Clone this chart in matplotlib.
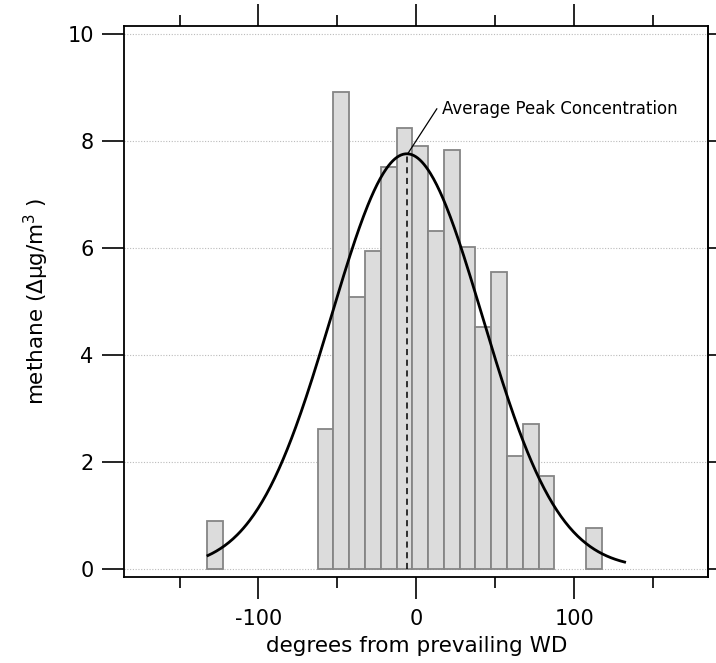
import numpy as np
import matplotlib
matplotlib.use("Agg")
import matplotlib.pyplot as plt
from matplotlib.ticker import MultipleLocator, FixedLocator

plt.rcParams['font.family'] = ['DejaVu Sans']
plt.rcParams['axes.unicode_minus'] = False

# Histogram bins (left edges, width 10 degrees) and heights
bin_left = [-132.5, -62.5, -52.5, -42.5, -32.5, -22.5, -12.5, -2.5, 7.5, 17.5,
            27.5, 37.5, 47.5, 57.5, 67.5, 77.5, 107.5]
bin_height = [0.89, 2.61, 8.91, 5.08, 5.94, 7.52, 8.24, 7.91, 6.32, 7.84,
              6.02, 4.52, 5.55, 2.11, 2.71, 1.74, 0.755]
bin_width = 10

# Gaussian fit parameters
fit_amp = 7.76
fit_center = -6.0
fit_sigma = 48.0
fit_xmin, fit_xmax = -132.0, 132.0

peak_label = "Average Peak Concentration"
label_anchor = (13.0, 8.6)   # end of the leader line
label_pos = (16.3, 8.6)      # text start

fig = plt.figure(figsize=(7.16, 6.63), dpi=100)
ax = fig.add_axes([0.1736, 0.1297, 0.8156, 0.8315])

ax.bar(bin_left, bin_height, width=bin_width, align='edge',
       color='#dcdcdc', edgecolor='#858585', linewidth=1.3, zorder=2)

xf = np.linspace(fit_xmin, fit_xmax, 400)
yf = fit_amp * np.exp(-(xf - fit_center) ** 2 / (2 * fit_sigma ** 2))
ax.plot(xf, yf, color='black', lw=2.0, zorder=4)

ax.plot([fit_center, fit_center], [0, fit_amp], color='black', lw=1.1,
        ls=(0, (4, 3)), zorder=3)

ax.plot([fit_center + 1.0, label_anchor[0]], [fit_amp + 0.02, label_anchor[1]],
        color='black', lw=0.9, zorder=5)
ax.text(label_pos[0], label_pos[1], peak_label, fontsize=12, va='center',
        ha='left', zorder=5)

ax.set_xlim(-185, 185)
ax.set_ylim(-0.155, 10.155)

ax.xaxis.set_major_locator(FixedLocator([-100, 0, 100]))
ax.xaxis.set_minor_locator(FixedLocator([-150, -50, 50, 150]))
ax.yaxis.set_major_locator(MultipleLocator(2))

ax.tick_params(axis='x', which='major', direction='out', length=16, width=1.2,
               top=True, bottom=True, labelsize=15, pad=7)
ax.tick_params(axis='x', which='minor', direction='out', length=8, width=1.2,
               top=True, bottom=True)
ax.tick_params(axis='y', which='major', direction='out', length=16, width=1.2,
               left=True, right=False, labelsize=15, pad=6)

# right side short ticks
sec = ax.secondary_yaxis('right')
sec.yaxis.set_major_locator(MultipleLocator(2))
sec.tick_params(direction='out', length=8, width=1.2, labelright=False)
sec.spines['right'].set_linewidth(1.3)

for s in ax.spines.values():
    s.set_linewidth(1.3)

ax.grid(axis='y', color='#bbbbbb', ls=(0, (1, 1.5)), lw=0.8, zorder=0)
ax.set_axisbelow(True)

ax.set_xlabel("degrees from prevailing WD", fontsize=15.5, labelpad=5)
ax.set_ylabel("methane (Δμg/m$^{3}$ )", fontsize=15.5, labelpad=12)

fig.savefig("out.png", dpi=100)
